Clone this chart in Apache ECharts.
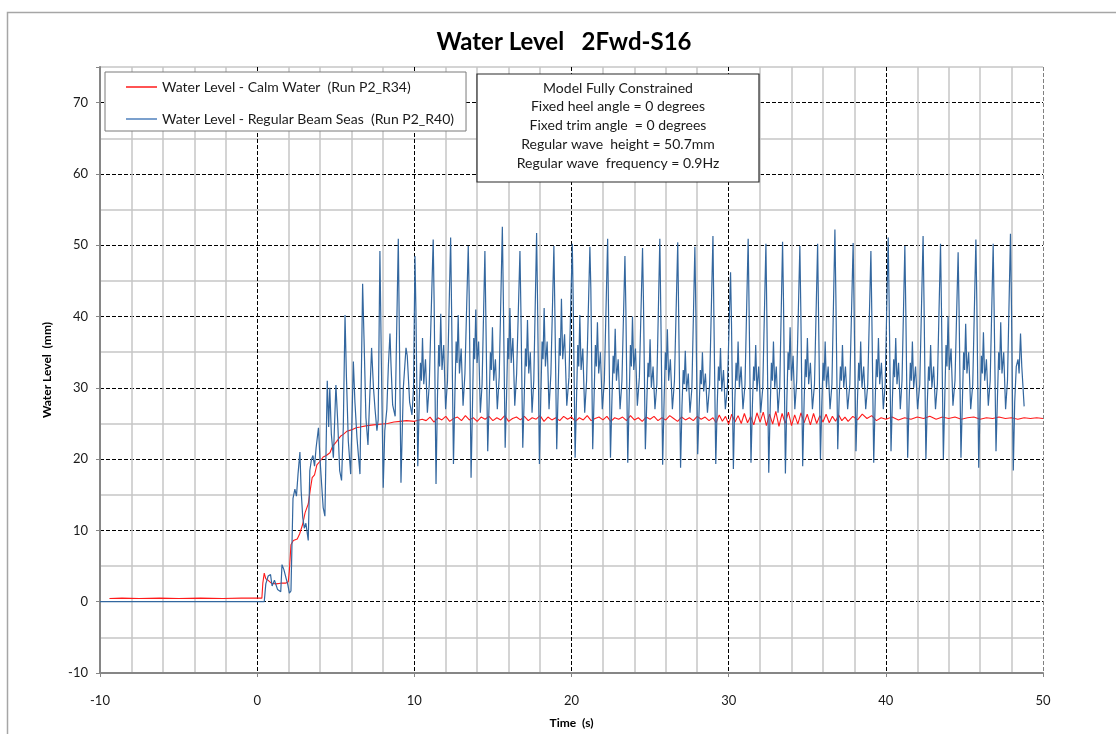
<!DOCTYPE html>
<html><head><meta charset="utf-8">
<script src="https://cdn.jsdelivr.net/npm/echarts@6/dist/echarts.min.js"></script>
<style>html,body{margin:0;padding:0;background:#fff}#c{width:1116px;height:734px}</style>
</head><body><div id="c"></div>
<script>
const titleText = 'Water Level   2Fwd-S16';
const xName = 'Time  (s)';
const yName = 'Water Level  (mm)';
const seriesNames = ['Water Level - Calm Water  (Run P2_R34)', 'Water Level - Regular Beam Seas  (Run P2_R40)'];
const noteLines = ['Model Fully Constrained', 'Fixed heel angle = 0 degrees', 'Fixed trim angle  = 0 degrees', 'Regular wave  height = 50.7mm', 'Regular wave  frequency = 0.9Hz'];
const xMin = -10, xMax = 50, xMajor = 10, xMinor = 2;
const yMin = -10, yMax = 75, yMajor = 10, yMinor = 5;

const redData = [
[-9.4,0.45],[-8.6,0.5],[-7.5,0.45],[-6.2,0.5],[-5.0,0.45],[-3.6,0.5],[-2.2,0.45],[-1.0,0.5],[0.30,0.5],[0.36,2.6],[0.45,4.0],[0.55,3.2],[0.70,3.0],[0.90,2.6],[1.20,2.5],[1.50,2.6],[1.80,2.6],[1.98,2.8],[2.05,4.4],[2.15,8.0],[2.30,8.6],[2.55,8.8],[2.70,9.5],[2.90,10.9],[3.05,12.5],[3.25,13.7],[3.40,16.0],[3.50,17.4],[3.65,17.8],[3.80,19.2],[4.00,19.7],[4.20,20.3],[4.40,20.5],[4.63,20.9],[4.80,21.8],[5.06,22.5],[5.30,23.2],[5.50,23.5],[5.70,23.9],[6.00,24.1],[6.30,24.4],[6.55,24.5],[7.00,24.7],[7.40,24.8],[7.80,24.9],[8.30,25.0],[8.70,25.2],[9.10,25.3],[9.50,25.4],[10.0,25.3],[10.5,25.6],
[10.75,25.4],[11.0,25.9],[11.25,25.2],[11.5,25.8],[11.75,25.5],[12.0,26.0],[12.25,25.3],[12.5,25.7],[12.75,25.9],[13.0,25.4],[13.25,26.1],[13.5,25.5],[13.75,25.8],[14.0,25.3],[14.25,25.9],[14.5,25.6],[14.75,26.0],[15.0,25.4],[15.25,25.8],[15.5,25.5],[15.75,26.1],[16.0,25.3],[16.25,25.7],[16.5,25.9],[16.75,25.5],[17.0,26.0],[17.25,25.4],[17.5,25.8],[17.75,25.6],[18.0,26.1],[18.25,25.3],[18.5,25.9],[18.75,25.5],[19.0,25.8],[19.25,25.4],[19.5,26.0],[19.75,25.6],[20.0,25.9],[20.25,25.3],[20.5,25.8],[20.75,25.5],[21.0,26.1],[21.25,25.4],[21.5,25.7],[21.75,25.9],[22.0,25.5],[22.25,26.0],[22.5,25.3],[22.75,25.8],[23.0,25.6],[23.25,25.9],[23.5,25.4],[23.75,26.1],[24.0,25.5],[24.25,25.8],[24.5,25.3],[24.75,25.9],[25.0,25.6],[25.25,26.0],[25.5,25.4],[25.75,25.8],[26.0,25.5],[26.25,26.1],[26.5,25.7],[26.75,25.3],[27.0,25.9],[27.25,25.5],[27.5,25.8],[27.75,25.4],[28.0,26.0],[28.25,25.6],[28.5,25.9],[28.75,25.4],[29.0,25.8],
[29.2,25.1],[29.4,26.2],[29.6,25.3],[29.8,26.0],[30.0,24.9],[30.2,26.3],[30.4,25.2],[30.6,26.1],[30.8,25.0],[31.0,26.4],[31.2,25.1],[31.4,26.0],[31.6,24.8],[31.8,26.5],[32.0,25.2],[32.2,26.6],[32.4,24.7],[32.6,26.3],[32.8,24.9],[33.0,26.7],[33.2,24.6],[33.4,26.4],[33.6,25.0],[33.8,26.6],[34.0,24.7],[34.2,26.2],[34.4,24.9],[34.6,26.5],[34.8,25.1],[35.0,26.3],[35.2,24.8],[35.4,26.4],[35.6,25.0],[35.8,26.1],[36.0,25.2],[36.2,26.3],[36.4,25.1],[36.6,26.0],[36.8,25.3],[37.0,26.2],[37.2,25.4],[37.4,25.9],[37.6,25.3],
[37.9,26.0],[38.2,25.5],[38.5,26.3],[38.8,25.7],[39.1,26.1],[39.4,25.4],[39.7,25.8],[40.0,25.6],[40.4,25.9],[40.8,25.5],[41.2,25.8],[41.6,25.6],[42.0,25.9],[42.4,25.7],[42.8,26.0],[43.2,25.6],[43.6,25.9],[44.0,25.7],[44.4,25.9],[44.8,25.6],[45.2,25.8],[45.6,25.9],[46.0,25.6],[46.4,25.8],[46.8,25.7],[47.2,25.9],[47.6,25.7],[48.0,25.8],[48.4,25.6],[48.8,25.8],[49.2,25.7],[49.6,25.8],[50.0,25.7]
];

const blueData = [
[-10,0],[0.45,0],[0.55,2.5],[0.70,3.6],[0.85,3.8],[0.95,2.2],[1.10,3.0],[1.30,1.7],[1.50,1.4],[1.58,5.2],[1.70,4.5],[1.85,3.2],[1.95,2.4],[2.05,1.2],[2.15,1.5],[2.28,14.5],[2.40,15.8],[2.50,14.8],[2.60,17.9],[2.72,21.0],[2.80,15.5],[2.90,11.8],[3.00,10.3],[3.10,11.0],[3.25,8.6],[3.35,18.4],[3.45,19.9],[3.55,20.5],[3.65,19.0],[3.75,21.6],[3.90,24.4],[4.00,20.0],[4.10,16.5],[4.20,13.2],[4.31,12.0],
[4.46,31.0],[4.55,24.5],[4.62,30.0],[4.72,23.5],[4.85,20.2],[5.01,30.4],[5.12,25.5],[5.25,18.4],[5.37,17.0],[5.48,24.5],[5.59,40.2],[5.68,31.5],[5.80,22.5],[5.95,17.9],[6.12,33.7],[6.22,28.0],[6.35,23.0],[6.54,17.9],[6.71,44.6],[6.80,36.8],[6.92,25.8],[7.05,22.0],[7.28,35.6],[7.40,30.0],[7.50,27.0],[7.62,24.0],[7.70,25.5],[7.81,49.2],[7.90,34.0],[8.02,16.0],[8.12,24.0],[8.25,27.0],[8.35,33.2],[8.45,37.6],[8.52,33.0],[8.62,27.6],[8.78,26.0],[8.98,50.9],[9.06,35.0],[9.15,16.7],[9.30,30.0],[9.47,35.6],[9.55,34.5],[9.70,28.0],[9.85,26.2],[9.95,30.0],
[10.04,48.5],[10.10,41],[10.22,19.0],[10.31,28],[10.39,33.5],[10.45,31],[10.52,37.0],[10.60,30.5],[10.71,34],[10.83,26.5],[10.95,30.5],
[11.20,50.8],[11.26,42],[11.38,16.5],[11.47,28.5],[11.55,36],[11.61,33],[11.68,40.4],[11.76,32.5],[11.87,36],[11.99,27],[12.11,31],
[12.31,51.1],[12.37,41],[12.49,19.3],[12.58,29],[12.66,36.5],[12.72,33.5],[12.79,40.2],[12.87,32],[12.98,35.5],[13.10,27.5],[13.22,32],
[13.43,49.9],[13.49,43],[13.61,17.4],[13.70,27.5],[13.78,37],[13.84,34],[13.91,41.0],[13.99,33.5],[14.09,36.5],[14.20,26.5],[14.31,30.5],
[14.49,49.2],[14.55,40],[14.67,21.1],[14.76,28],[14.84,35],[14.90,32.5],[14.97,38.5],[15.05,31],[15.16,34],[15.28,27],[15.40,31.5],
[15.60,52.6],[15.66,43],[15.78,21.6],[15.87,29],[15.95,37],[16.01,34],[16.08,41.2],[16.16,33.5],[16.27,37],[16.39,27.5],[16.51,32],
[16.72,49.2],[16.78,41],[16.90,21.6],[16.99,28.5],[17.07,35.5],[17.13,33],[17.20,39.5],[17.28,32],[17.38,35],[17.49,26.5],[17.60,31],
[17.78,51.7],[17.84,42],[17.96,19.3],[18.05,29],[18.13,36.5],[18.19,34],[18.26,41.2],[18.34,33],[18.45,36.5],[18.57,27],[18.69,32],
[18.88,49.9],[18.94,41],[19.06,21.4],[19.15,29.5],[19.23,37],[19.29,34.5],[19.36,42.5],[19.44,34],[19.56,37.5],[19.70,27.5],[19.84,31.5],
[20.05,50.2],[20.11,42],[20.23,20.2],[20.32,28.5],[20.40,36],[20.46,33],[20.53,40.2],[20.61,32.5],[20.72,35.5],[20.84,26.5],[20.96,31],
[21.17,49.8],[21.23,44],[21.35,21.4],[21.44,29],[21.52,36],[21.58,33],[21.65,39.2],[21.73,32],[21.84,35],[21.96,27],[22.09,31],
[22.30,50.9],[22.36,40],[22.48,20.2],[22.57,28],[22.65,34.5],[22.71,32],[22.78,38.3],[22.86,31],[22.97,34],[23.09,27],[23.21,31],
[23.40,48.5],[23.46,41],[23.58,19.5],[23.67,28.5],[23.75,36],[23.81,33],[23.88,40.0],[23.96,32.5],[24.07,35.5],[24.19,27.5],[24.32,31.5],
[24.52,49.6],[24.58,42],[24.70,21.4],[24.79,28],[24.87,33.5],[24.93,31.5],[25.00,36.8],[25.08,30],[25.19,33],[25.31,27],[25.43,30.5],
[25.62,50.9],[25.68,41],[25.80,19.2],[25.89,28],[25.97,35],[26.03,32.5],[26.10,38.2],[26.18,31],[26.29,34],[26.42,27],[26.55,31],
[26.76,50.4],[26.82,40],[26.94,18.8],[27.03,27.5],[27.11,32.5],[27.17,30.5],[27.24,35.2],[27.32,29.5],[27.43,32],[27.54,26.5],[27.66,30],
[27.85,49.8],[27.91,41],[28.03,20.7],[28.12,27],[28.20,32.5],[28.26,30.5],[28.33,35.0],[28.41,29.5],[28.52,32],[28.65,26.5],[28.79,30.5],
[29.00,51.3],[29.06,40],[29.18,19.3],[29.27,27.5],[29.35,33],[29.41,31],[29.48,35.6],[29.56,29.5],[29.67,32.5],[29.79,27],[29.92,30],
[30.12,46.2],[30.18,39],[30.30,18.6],[30.39,28],[30.47,33.5],[30.53,31],[30.60,36.5],[30.68,30],[30.79,33],[30.91,27],[31.04,30.5],
[31.24,50.9],[31.30,41],[31.42,19.5],[31.51,27.5],[31.59,33],[31.65,31],[31.72,36.0],[31.80,29.5],[31.91,33],[32.04,26.5],[32.17,30],
[32.37,50.2],[32.43,40],[32.55,18.1],[32.64,27],[32.72,33.5],[32.78,31],[32.85,36.5],[32.93,30],[33.03,33],[33.14,26.5],[33.25,30],
[33.43,50.5],[33.49,42],[33.61,18.0],[33.70,28],[33.78,35],[33.84,32.5],[33.91,38.5],[33.99,31],[34.10,34.5],[34.21,27],[34.33,31],
[34.53,49.9],[34.59,41],[34.71,19.0],[34.80,28],[34.88,34],[34.94,31.5],[35.01,37.0],[35.09,30.5],[35.20,33.5],[35.33,27],[35.46,30.5],
[35.66,50.2],[35.72,40],[35.84,20.0],[35.93,28],[36.01,33.5],[36.07,31],[36.14,36.5],[36.22,30],[36.33,33],[36.45,27],[36.57,30.5],
[36.76,52.2],[36.82,43],[36.94,21.4],[37.03,28.5],[37.11,33],[37.17,31],[37.24,36.0],[37.32,30],[37.43,33],[37.57,27],[37.71,30.5],
[37.92,50.3],[37.98,41],[38.10,21.1],[38.19,28],[38.27,33.5],[38.33,31],[38.40,36.5],[38.48,30],[38.59,33],[38.72,27],[38.85,30.5],
[39.05,49.2],[39.11,40],[39.23,19.5],[39.32,28],[39.40,34],[39.46,31.5],[39.53,37.0],[39.61,30.5],[39.72,33.5],[39.84,27],[39.96,30.5],
[40.15,51.1],[40.21,42],[40.33,21.1],[40.42,28.5],[40.50,34],[40.56,31.5],[40.63,37.0],[40.71,30.5],[40.81,33.5],[40.92,27],[41.03,31],
[41.21,49.9],[41.27,41],[41.39,20.2],[41.48,28],[41.56,33.5],[41.62,31],[41.69,36.5],[41.77,30],[41.89,33],[42.02,27],[42.16,30.5],
[42.37,51.3],[42.43,42],[42.55,20.0],[42.64,28],[42.72,33],[42.78,31],[42.85,36.0],[42.93,30],[43.04,33],[43.16,27],[43.28,30.5],
[43.48,50.2],[43.54,41],[43.66,20.0],[43.75,28.5],[43.83,36],[43.89,33],[43.96,40.0],[44.04,32.5],[44.15,35.5],[44.27,27.5],[44.40,31],
[44.60,49.0],[44.66,41],[44.78,20.2],[44.87,28],[44.95,35],[45.01,32.5],[45.08,39.0],[45.16,32],[45.27,35],[45.40,27],[45.53,30.5],
[45.73,50.8],[45.79,42],[45.91,18.8],[46.00,28],[46.08,34.5],[46.14,32],[46.21,37.8],[46.29,31],[46.40,34],[46.52,27.5],[46.64,31],
[46.83,50.2],[46.89,41],[47.01,21.1],[47.10,28.5],[47.18,35],[47.24,32.5],[47.31,39.2],[47.39,32],[47.50,35],[47.62,27],[47.74,31],
[47.93,51.6],[47.99,42],[48.11,18.4],[48.20,28],[48.30,33],[48.41,34],[48.48,32],[48.57,37.6],[48.65,33],[48.80,27.4]
];

const FONT = 'Lato, "Open Sans", sans-serif';
const chart = echarts.init(document.getElementById('c'));

function majorColors(n, last) { const a = []; for (let i = 0; i < n; i++) a.push('#000'); a[n - 1] = last; return a; }
const xMajorCount = (xMax - xMin) / xMajor + 1;
const yMajorCount = Math.floor((yMax - yMin) / yMajor) + 1 + ((yMax - yMin) % yMajor ? 1 : 0);
const xMinorColors = ['transparent']; for (let i = 1; i < xMajor / xMinor; i++) xMinorColors.push('#c6c6c6');
const yMinorColors = ['transparent']; for (let i = 1; i < yMajor / yMinor; i++) yMinorColors.push('#c6c6c6');

const option = {
  animation: false,
  backgroundColor: '#fff',
  textStyle: {fontFamily: FONT},
  grid: {left: 100, right: 73, top: 67, bottom: 57, containLabel: false},
  legend: {
    orient: 'vertical', left: 105, top: 72,
    icon: 'rect', itemWidth: 31, itemHeight: 1.5, itemGap: 18,
    padding: [8, 12, 5, 21],
    backgroundColor: '#fff', borderColor: '#7a7a7a', borderWidth: 1,
    textStyle: {fontSize: 14, lineHeight: 14, color: '#1a1a1a', fontFamily: FONT},
    data: seriesNames
  },
  xAxis: [{
    type: 'value', min: xMin, max: xMax, interval: xMajor,
    name: xName, nameLocation: 'middle', nameGap: 44,
    nameTextStyle: {fontSize: 12, fontWeight: 'bold', color: '#000', fontFamily: FONT},
    axisLine: {onZero: false, lineStyle: {color: '#868686', width: 2}},
    axisTick: {show: true, length: 4, lineStyle: {color: '#868686', width: 1}},
    axisLabel: {margin: 21, fontSize: 13, color: '#1a1a1a', fontFamily: FONT},
    splitLine: {show: true, lineStyle: {color: majorColors(xMajorCount, '#808080'), width: 1, type: [4, 2]}}
  }, {
    type: 'value', min: xMin, max: xMax, interval: xMinor,
    axisLine: {show: false}, axisTick: {show: false}, axisLabel: {show: false},
    splitLine: {show: true, lineStyle: {color: xMinorColors, width: 1.5}}
  }],
  yAxis: [{
    type: 'value', min: yMin, max: yMax, interval: yMajor,
    name: yName, nameLocation: 'middle', nameGap: 47, nameRotate: 90,
    nameTextStyle: {fontSize: 12, fontWeight: 'bold', color: '#000', fontFamily: FONT},
    axisLine: {show: true, onZero: false, lineStyle: {color: '#868686', width: 2}},
    axisTick: {show: true, length: 4, lineStyle: {color: '#868686', width: 1}},
    axisLabel: {margin: 12, fontSize: 13, color: '#1a1a1a', fontFamily: FONT,
      formatter: v => (v > yMax - 1e-9 && (yMax - yMin) % yMajor) ? '' : String(v)},
    splitLine: {show: true, lineStyle: {color: majorColors(yMajorCount, 'transparent'), width: 1, type: [4, 2]}}
  }, {
    type: 'value', min: yMin, max: yMax, interval: yMinor,
    axisLine: {show: false}, axisTick: {show: false}, axisLabel: {show: false},
    splitLine: {show: true, lineStyle: {color: yMinorColors, width: 1.5}}
  }],
  series: [{
    name: seriesNames[0], type: 'line', xAxisIndex: 0, yAxisIndex: 0,
    data: redData, symbol: 'none', showSymbol: false,
    lineStyle: {color: '#ff1a1a', width: 1.1}, itemStyle: {color: '#ff1a1a'}, z: 3
  }, {
    name: seriesNames[1], type: 'line', xAxisIndex: 0, yAxisIndex: 0,
    data: blueData, symbol: 'none', showSymbol: false,
    lineStyle: {color: '#33679f', width: 1.2}, itemStyle: {color: '#4f81bd'}, z: 4
  }],
  graphic: [
    {type: 'rect', z: -10, silent: true, shape: {x: 7.5, y: 12.5, width: 1130, height: 740},
      style: {fill: 'none', stroke: '#a6a6a6', lineWidth: 1.5}},
    {type: 'text', x: 564, y: 42, z: 100, silent: true,
      style: {text: titleText, fontSize: 24, fontWeight: 'bold', fontFamily: FONT, fill: '#000', align: 'center', verticalAlign: 'middle'}},
    {type: 'rect', z: 100, silent: true, shape: {x: 477, y: 74, width: 282, height: 108},
      style: {fill: '#fff', stroke: '#2a2a2a', lineWidth: 1.2}}
  ].concat(noteLines.map((t, i) => ({
    type: 'text', x: 618, y: 88 + i * 18.8, z: 101, silent: true,
    style: {text: t, fontSize: 14, fontFamily: FONT, fill: '#1a1a1a', align: 'center', verticalAlign: 'middle'}
  })))
};
chart.setOption(option);
</script>
</body></html>
